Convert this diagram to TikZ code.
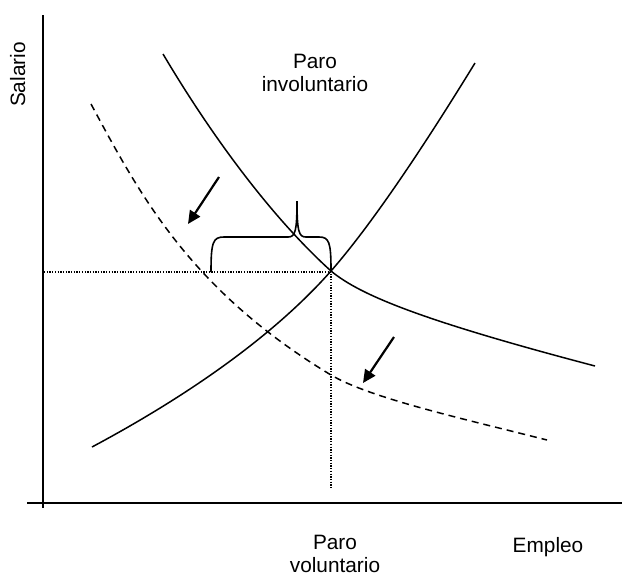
\documentclass[tikz,border=0pt]{standalone}
\usepackage{fontspec}
\setmainfont{Liberation Sans}
\usetikzlibrary{arrows.meta}
\begin{document}
\begin{tikzpicture}[x=1pt,y=-1pt,
  lbl/.style={inner sep=0pt,font=\fontsize{20.8}{23}\selectfont,align=center},
  axis/.style={line width=1.8pt},
  curve/.style={line width=1.5pt},
  dcurve/.style={line width=1.5pt,dash pattern=on 7pt off 5pt},
  guide/.style={line width=1.2pt,dash pattern=on 1.3pt off 1.4pt},
  shiftarrow/.style={line width=2.2pt,-{Triangle[length=13pt,width=12pt]}},
  bracestyle/.style={line width=1.6pt}]
\useasboundingbox (0,0) rectangle (622,576);
% axes
\coordinate (ytop) at (43,15);
\coordinate (ybot) at (43,508);
\coordinate (xl) at (27,503);
\coordinate (xr) at (622,503);
\draw[axis] (ytop) -- (ybot);
\draw[axis] (xl) -- (xr);
% equilibrium
\coordinate (E) at (331,271);
\coordinate (Ey) at (44,272);
\coordinate (Ex) at (331,489);
\draw[guide] (Ey) -- (331,272);
\draw[guide] (E) -- (Ex);
% demand
\coordinate (d0) at (163,54);
\coordinate (d1) at (595,366);
\draw[curve] (d0) .. controls (220,150) and (280,225) .. (E)
  .. controls (360,295) and (420,320) .. (d1);
% supply
\coordinate (s0) at (92,447);
\coordinate (s1) at (475,63);
\draw[curve] (s0) .. controls (180,400) and (270,340) .. (E)
  .. controls (380,215) and (440,120) .. (s1);
% shifted demand
\coordinate (n0) at (91,104);
\coordinate (nm) at (331,375);
\coordinate (n1) at (547,440);
\draw[dcurve] (n0) .. controls (140,195) and (190,290) .. (nm)
  .. controls (370,398) and (460,418) .. (n1);
% arrows
\coordinate (a1s) at (219,177);
\coordinate (a1e) at (188,224);
\coordinate (a2s) at (394,337);
\coordinate (a2e) at (363,383);
\draw[shiftarrow] (a1s) -- (a1e);
\draw[shiftarrow] (a2s) -- (a2e);
% brace
\coordinate (bl) at (211,272);
\coordinate (bm) at (297,201);
\coordinate (br) at (331,270);
\draw[bracestyle] (bl) .. controls (211,242) and (213,237) .. (224,237) -- (288,237)
  .. controls (295,237) and (297,232) .. (bm)
  .. controls (297,232) and (299,237) .. (306,237) -- (319,237)
  .. controls (329,237) and (331,242) .. (br);
% labels
\node[lbl,rotate=90,anchor=base] (sal) at (25,74.5) {Salario};
\node[lbl,anchor=north] (pinv) at (315,54) {Paro\\involuntario};
\node[lbl,anchor=north] (pvol) at (335,535) {Paro\\voluntario};
\node[lbl,anchor=base] (emp) at (548,552) {Empleo};
\end{tikzpicture}
\end{document}
